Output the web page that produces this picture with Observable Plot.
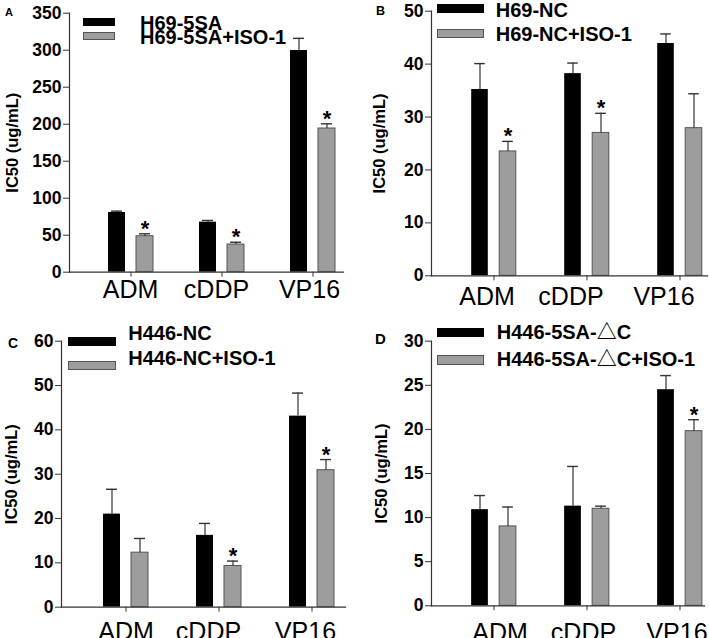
<!DOCTYPE html>
<html><head><meta charset="utf-8">
<script src="https://cdn.jsdelivr.net/npm/d3@7"></script>
<script src="https://cdn.jsdelivr.net/npm/@observablehq/plot@0.6"></script>
<style>
body{margin:0;background:#fff;overflow:hidden;font-family:"Liberation Sans","Noto Sans CJK SC",Arial,sans-serif}
#root{position:relative;width:709px;height:638px;overflow:hidden;background:#fff}
.panel{position:absolute}
.lbl{position:absolute;font-weight:bold;line-height:1;white-space:nowrap;color:#000;font-size:20px}
.letter{position:absolute;font-weight:bold;line-height:1;color:#000}
.sw{position:absolute;box-sizing:border-box}
</style></head><body><div id="root"></div>
<script>
// ---- data ----
const drugs = ["ADM", "cDDP", "VP16"];
const yLabel = "IC50 (ug/mL)";

const seriesA = ["H69-5SA", "H69-5SA+ISO-1"];
const ctrlA = [80.7, 67.6, 299.6];
const ctrlErrA = [1.8, 2.3, 16.4];
const isoA = [48.6, 37.4, 194.2];
const isoErrA = [3.3, 3.1, 6.3];
const sigA = [true, true, true];
const ticksA = [0, 50, 100, 150, 200, 250, 300, 350];

const seriesB = ["H69-NC", "H69-NC+ISO-1"];
const ctrlB = [35.2, 38.2, 43.9];
const ctrlErrB = [4.9, 2.0, 1.8];
const isoB = [23.5, 27.0, 27.9];
const isoErrB = [1.9, 3.7, 6.5];
const sigB = [true, true, false];
const ticksB = [0, 10, 20, 30, 40, 50];

const seriesC = ["H446-NC", "H446-NC+ISO-1"];
const ctrlC = [21.0, 16.2, 43.1];
const ctrlErrC = [5.6, 2.7, 5.2];
const isoC = [12.3, 9.3, 30.9];
const isoErrC = [3.2, 1.1, 2.4];
const sigC = [false, true, true];
const ticksC = [0, 10, 20, 30, 40, 50, 60];

const seriesD = ["H446-5SA-△C", "H446-5SA-△C+ISO-1"];
const ctrlD = [10.9, 11.3, 24.5];
const ctrlErrD = [1.6, 4.5, 1.6];
const isoD = [9.0, 11.0, 19.8];
const isoErrD = [2.2, 0.3, 1.3];
const sigD = [false, false, true];
const ticksD = [0, 5, 10, 15, 20, 25, 30];

// ---- layout ----
const panels = [
  {letter:"A", ls:11, lx:5, ly:7, left:0, top:0, w:354, h:318, mL:69, mR:11, mT:12.7, mB:46.3, c0:130, c2:312, xpad:3, ldx:-57, lblDx:[-0.5,-5.5,-3.5],
   series:seriesA, ctrl:ctrlA, ctrlErr:ctrlErrA, iso:isoA, isoErr:isoErrA, sig:sigA, ticks:ticksA,
   leg:{sx:83, sw:32, s1:[18,8], s2:[32,8], tx:140, t1:13.2, t2:26.8}},
  {letter:"B", ls:12.5, lx:22, ly:5, left:354, top:0, w:355, h:318, mL:77, mR:2, mT:10.7, mB:42.7, c0:139.5, c2:326.3, xpad:6.4, ldx:-52, lblDx:[-7,-16,-16],
   series:seriesB, ctrl:ctrlB, ctrlErr:ctrlErrB, iso:isoB, isoErr:isoErrB, sig:sigB, ticks:ticksB,
   leg:{sx:83.3, sw:46.7, s1:[4,8.7], s2:[29.3,9], tx:141.7, t1:0, t2:24.3}},
  {letter:"C", ls:14, lx:8, ly:18, left:0, top:318, w:354, h:320, mL:61, mR:9, mT:22.7, mB:31.3, c0:125, c2:311, xpad:10, ldx:-50, lblDx:[0,-10.5,-6.5],
   series:seriesC, ctrl:ctrlC, ctrlErr:ctrlErrC, iso:isoC, isoErr:isoErrC, sig:sigC, ticks:ticksC,
   leg:{sx:68.3, sw:47.7, s1:[19.3,8.4], s2:[42.7,9], tx:128.3, t1:5, t2:30}},
  {letter:"D", ls:15, lx:21, ly:13, left:354, top:318, w:355, h:320, mL:77, mR:5, mT:22.7, mB:32.7, c0:139.5, c2:326, xpad:12.7, ldx:-49.5, lblDx:[6,-3.5,-3],
   series:seriesD, ctrl:ctrlD, ctrlErr:ctrlErrD, iso:isoD, isoErr:isoErrD, sig:sigD, ticks:ticksD,
   leg:{sx:83.3, sw:46.7, s1:[10,9.3], s2:[37.3,9.4], tx:142.7, t1:4.3, t2:31}}
];

const FONT = '"Liberation Sans", Arial, sans-serif';
const GRAY = "#9d9d9d";
const root = document.getElementById("root");

function build(cfg) {
  const ctrlRows = drugs.map((d, i) => ({drug: d, v: cfg.ctrl[i], e: cfg.ctrlErr[i]}));
  const isoRows = drugs.map((d, i) => ({drug: d, v: cfg.iso[i], e: cfg.isoErr[i], sig: cfg.sig[i]}));
  const step = (cfg.c2 - cfg.c0) / (drugs.length - 1);
  const half = step / 2, off = 14, bw = 17, cap = 11, tick = 5;
  const labelAxes = drugs.map((d, i) => Plot.axisX({ticks: [d], tickSize: 0, tickPadding: tick + cfg.xpad, dx: cfg.lblDx[i], fontSize: 25, label: null}));
  const plot = Plot.plot({
    width: cfg.w, height: cfg.h,
    marginLeft: cfg.mL, marginRight: cfg.mR, marginTop: cfg.mT, marginBottom: cfg.mB,
    style: {fontFamily: FONT, fontSize: "17px", background: "transparent", color: "#000", overflow: "visible"},
    x: {type: "band", domain: drugs, range: [cfg.c0 - half, cfg.c2 + half], padding: 0},
    y: {domain: [0, cfg.ticks[cfg.ticks.length - 1]]},
    marks: [
      Plot.barY(ctrlRows, {x: "drug", y: "v", fill: "#000", insetLeft: half - off - bw / 2, insetRight: half + off - bw / 2}),
      Plot.barY(isoRows, {x: "drug", y: "v", fill: GRAY, stroke: "#555", strokeWidth: 1, insetLeft: half + off - bw / 2, insetRight: half - off - bw / 2}),
      Plot.ruleX(ctrlRows, {x: "drug", y1: "v", y2: d => d.v + d.e, dx: -off, stroke: "#333", strokeWidth: 1.2}),
      Plot.tickY(ctrlRows, {x: "drug", y: d => d.v + d.e, insetLeft: half - off - cap / 2, insetRight: half + off - cap / 2, stroke: "#333", strokeWidth: 1.4}),
      Plot.ruleX(isoRows, {x: "drug", y1: "v", y2: d => d.v + d.e, dx: off, stroke: "#333", strokeWidth: 1.2}),
      Plot.tickY(isoRows, {x: "drug", y: d => d.v + d.e, insetLeft: half + off - cap / 2, insetRight: half - off - cap / 2, stroke: "#333", strokeWidth: 1.4}),
      Plot.text(isoRows.filter(d => d.sig), {x: "drug", y: d => d.v + d.e, text: () => "*", dx: off, dy: 2, lineAnchor: "bottom", fontSize: 22, fontWeight: "bold", fill: "#000"}),
      Plot.frame({anchor: "left", stroke: "#333", strokeWidth: 1.2}),
      Plot.frame({anchor: "bottom", stroke: "#333", strokeWidth: 1.2}),
      Plot.axisY({ticks: cfg.ticks, tickSize: 6, tickPadding: 2, fontSize: 17.5, fontWeight: "bold", label: null, stroke: "#333"}),
      Plot.axisX({tickSize: tick, tickFormat: () => "", label: null, stroke: "#333"}),
      ...labelAxes,
      Plot.text([yLabel], {frameAnchor: "left", textAnchor: "middle", text: d => d, rotate: -90, dx: cfg.ldx, fontSize: 16.5, fontWeight: "bold", fill: "#000"})
    ]
  });
  const div = document.createElement("div");
  div.className = "panel";
  div.style.left = cfg.left + "px";
  div.style.top = cfg.top + "px";
  div.style.width = cfg.w + "px";
  div.style.height = cfg.h + "px";
  div.appendChild(plot);
  root.appendChild(div);

  // panel letter
  const L = document.createElement("div");
  L.className = "letter";
  L.textContent = cfg.letter;
  L.style.fontSize = cfg.ls + "px";
  L.style.left = (cfg.left + cfg.lx) + "px";
  L.style.top = (cfg.top + cfg.ly) + "px";
  root.appendChild(L);

  // legend
  const g = cfg.leg;
  const s1 = document.createElement("div");
  s1.className = "sw";
  Object.assign(s1.style, {left: (cfg.left + g.sx) + "px", top: (cfg.top + g.s1[0]) + "px", width: g.sw + "px", height: g.s1[1] + "px", background: "#000"});
  const s2 = document.createElement("div");
  s2.className = "sw";
  Object.assign(s2.style, {left: (cfg.left + g.sx) + "px", top: (cfg.top + g.s2[0]) + "px", width: g.sw + "px", height: g.s2[1] + "px", background: GRAY, border: "1px solid #555"});
  root.appendChild(s1); root.appendChild(s2);
  [[cfg.series[0], g.t1], [cfg.series[1], g.t2]].forEach(([t, y]) => {
    const e = document.createElement("div");
    e.className = "lbl";
    e.textContent = t;
    e.style.left = (cfg.left + g.tx) + "px";
    e.style.top = (cfg.top + y) + "px";
    root.appendChild(e);
  });
}
panels.forEach(build);
</script>
</body></html>
